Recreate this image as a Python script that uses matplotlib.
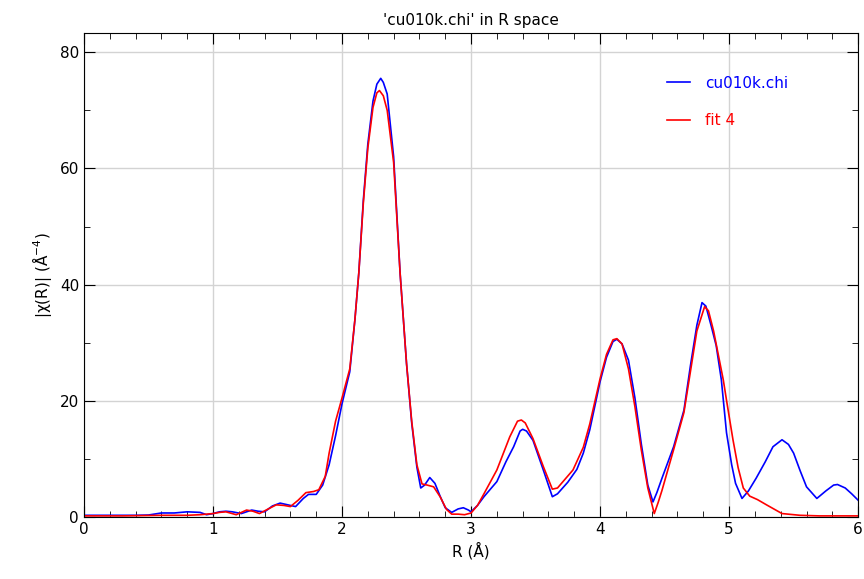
import matplotlib
matplotlib.use('Agg')
import matplotlib.pyplot as plt
from matplotlib.ticker import MultipleLocator

# data
r_data = [0.0, 0.2, 0.4, 0.5, 0.6, 0.7, 0.8, 0.9, 0.95, 1.0, 1.05, 1.1, 1.15, 1.22, 1.3,
          1.35, 1.4, 1.46, 1.52, 1.58, 1.64, 1.7, 1.74, 1.8, 1.85, 1.9, 1.95, 2.0, 2.06,
          2.1, 2.13, 2.165, 2.2, 2.24, 2.27, 2.3, 2.32, 2.35, 2.4, 2.45, 2.5, 2.54, 2.58,
          2.61, 2.64, 2.68, 2.72, 2.76, 2.8, 2.85, 2.9, 2.94, 2.98, 3.0, 3.05, 3.1, 3.2,
          3.27, 3.33, 3.38, 3.4, 3.43, 3.48, 3.56, 3.63, 3.67, 3.75, 3.82, 3.87, 3.92,
          4.0, 4.05, 4.1, 4.13, 4.17, 4.22, 4.27, 4.32, 4.37, 4.41, 4.44, 4.48, 4.57,
          4.65, 4.7, 4.75, 4.79, 4.82, 4.86, 4.9, 4.94, 4.98, 5.02, 5.05, 5.1, 5.15,
          5.21, 5.28, 5.34, 5.41, 5.46, 5.5, 5.55, 5.6, 5.68, 5.75, 5.81, 5.84, 5.9,
          5.95, 6.0]
chi_data = [0.3, 0.3, 0.3, 0.35, 0.7, 0.7, 0.9, 0.8, 0.4, 0.6, 0.9, 1.0, 0.9, 0.6, 1.2,
            1.0, 0.9, 1.9, 2.4, 2.1, 1.8, 3.2, 3.9, 3.9, 5.5, 9.0, 14.0, 19.5, 25.0,
            34.0, 42.0, 54.5, 64.2, 71.6, 74.5, 75.5, 74.8, 72.8, 62.0, 42.0, 26.4, 16.2, 8.6,
            5.0, 5.5, 6.8, 5.8, 3.6, 1.6, 0.8, 1.4, 1.6, 1.2, 0.9, 2.0, 3.5, 6.1,
            9.5, 12.1, 14.8, 15.1, 14.8, 13.2, 8.1, 3.5, 4.0, 6.0, 8.2, 11.0, 15.0,
            23.3, 27.5, 30.2, 30.6, 29.8, 27.0, 20.5, 12.5, 5.5, 2.6, 4.2, 6.7, 12.1,
            18.4, 26.0, 33.0, 36.9, 36.3, 33.0, 29.5, 23.6, 14.5, 9.0, 5.8, 3.2, 4.5,
            6.7, 9.5, 12.1, 13.3, 12.5, 11.0, 8.0, 5.2, 3.2, 4.5, 5.5, 5.6, 5.0,
            4.0, 2.9]

r_fit = [0.0, 0.3, 0.6, 0.8, 0.9, 1.0, 1.05, 1.1, 1.18, 1.26, 1.31, 1.36, 1.42, 1.49,
         1.55, 1.6, 1.66, 1.72, 1.78, 1.82, 1.87, 1.9, 1.95, 2.0, 2.06, 2.1, 2.13, 2.165,
         2.2, 2.24, 2.27, 2.29, 2.32, 2.35, 2.4, 2.45, 2.5, 2.54, 2.58, 2.62, 2.66, 2.71,
         2.76, 2.81, 2.85, 2.9, 2.95, 3.0, 3.05, 3.1, 3.2, 3.3, 3.36, 3.39, 3.42, 3.48,
         3.56, 3.63, 3.67, 3.79, 3.87, 3.92, 4.0, 4.05, 4.1, 4.13, 4.17, 4.22, 4.27,
         4.32, 4.37, 4.42, 4.45, 4.48, 4.57, 4.65, 4.7, 4.75, 4.81, 4.84, 4.88, 4.955,
         4.98, 5.03, 5.07, 5.11, 5.16, 5.22, 5.29, 5.41, 5.55, 5.7, 6.0]
chi_fit = [0.2, 0.2, 0.3, 0.3, 0.4, 0.6, 0.8, 0.9, 0.4, 1.2, 1.0, 0.6, 1.3, 2.1,
           2.0, 1.8, 2.9, 4.2, 4.4, 4.7, 7.0, 11.0, 16.5, 20.5, 25.5, 34.0, 42.0, 54.0,
           63.5, 70.5, 73.0, 73.4, 72.5, 70.0, 61.0, 42.0, 26.4, 16.5, 9.0, 5.7, 5.5, 5.2,
           3.5, 1.3, 0.5, 0.5, 0.4, 0.7, 2.0, 4.0, 8.1, 13.8, 16.5, 16.7, 16.2, 13.5,
           8.7, 4.8, 5.0, 8.1, 12.0, 16.0, 23.8, 28.0, 30.5, 30.7, 29.8, 25.5, 19.0,
           11.5, 5.0, 0.6, 2.5, 4.6, 11.6, 18.0, 25.0, 32.0, 36.2, 35.5, 32.0, 23.6,
           20.1, 13.3, 8.5, 5.0, 3.6, 3.0, 2.1, 0.6, 0.3, 0.2, 0.2]

fig = plt.figure(figsize=(8.64, 5.79), dpi=100)
ax = fig.add_axes([0.0972, 0.107, 0.896, 0.836])

ax.plot(r_data, chi_data, color='#0000ff', lw=1.2, label='cu010k.chi')
ax.plot(r_fit, chi_fit, color='#ff0000', lw=1.2, label='fit 4')

ax.set_xlim(0, 6)
ax.set_ylim(0, 83.3)
ax.xaxis.set_major_locator(MultipleLocator(1))
ax.xaxis.set_minor_locator(MultipleLocator(0.2))
ax.yaxis.set_major_locator(MultipleLocator(20))
ax.yaxis.set_minor_locator(MultipleLocator(10))
ax.tick_params(which='both', direction='in', top=True, right=True, labelsize=11)
ax.tick_params(which='major', length=8)
ax.tick_params(which='minor', length=4)
ax.grid(True, which='major', color='#d3d3d3', lw=1)
ax.set_axisbelow(True)

ax.set_title("'cu010k.chi' in R space", fontsize=11)
ax.set_xlabel('R (Å)', fontsize=11)
ax.set_ylabel('|χ(R)| (Å$^{-4}$)', fontsize=11)

leg = ax.legend(loc='upper left', bbox_to_anchor=(0.735, 0.94), frameon=False,
                handlelength=1.5, handletextpad=1.0, labelspacing=1.45, fontsize=11,
                labelcolor='linecolor')

fig.savefig('out.png', dpi=100)
